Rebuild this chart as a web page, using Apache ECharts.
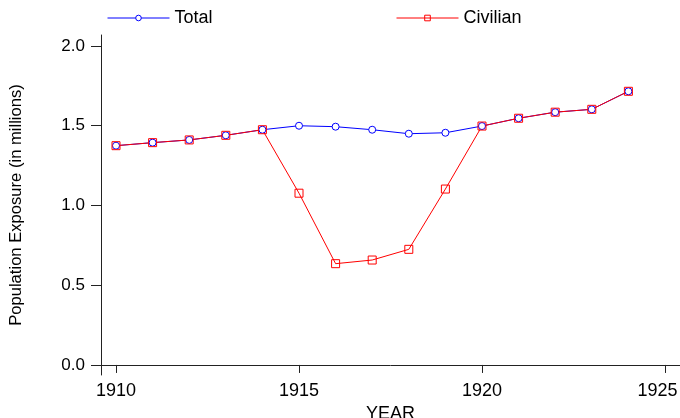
<!DOCTYPE html>
<html><head><meta charset="utf-8">
<script src="https://cdn.jsdelivr.net/npm/echarts@6/dist/echarts.min.js"></script>
<style>html,body{margin:0;padding:0;background:#fff}#c{width:680px;height:418px}</style>
</head><body><div id="c"></div>
<script>
var years = [1910,1911,1912,1913,1914,1915,1916,1917,1918,1919,1920,1921,1922,1923,1924];
var total = [1.375,1.394,1.411,1.440,1.475,1.500,1.494,1.475,1.450,1.456,1.498,1.547,1.585,1.603,1.716];
var civilian = [1.375,1.394,1.411,1.440,1.475,1.077,0.635,0.658,0.725,1.103,1.498,1.547,1.585,1.603,1.716];
var xTicks = [1910,1915,1920,1925];
var yTicks = [0,0.5,1,1.5,2];

var font = '"Liberation Sans", Arial, sans-serif';
var chart = echarts.init(document.getElementById('c'), null, {renderer:'canvas'});
chart.setOption({
  animation:false,
  backgroundColor:'#fff',
  grid:{left:101, right:0, top:35, bottom:43, containLabel:false, outerBoundsMode:'none'},
  legend:[
    {data:['Total'], left:102, top:4, itemWidth:62, itemHeight:7, itemGap:8,
     lineStyle:{width:1}, itemStyle:{borderWidth:1},
     textStyle:{fontFamily:font, fontSize:18, color:'#000'}},
    {data:['Civilian'], left:391, top:4, itemWidth:62, itemHeight:7, itemGap:8,
     lineStyle:{width:1}, itemStyle:{borderWidth:1},
     textStyle:{fontFamily:font, fontSize:18, color:'#000'}}
  ],
  xAxis:{
    type:'value', min:1909.59, max:1925.41,
    name:'YEAR', nameLocation:'middle', nameGap:25,
    nameTextStyle:{fontFamily:font, fontSize:18, color:'#000'},
    axisLine:{show:true, lineStyle:{color:'#222', width:1}},
    axisTick:{show:true, length:8, customValues:xTicks, lineStyle:{color:'#222'}},
    axisLabel:{customValues:xTicks, fontFamily:font, fontSize:18, color:'#000', margin:7,
      formatter:function(v){return v === 1925 ? '{r|' + v + '}' : String(v);},
      rich:{r:{fontFamily:font, fontSize:18, color:'#000', padding:[0,15,0,0]}}},
    splitLine:{show:false}
  },
  yAxis:{
    type:'value', min:-0.063, max:2.069,
    name:'Population Exposure (in millions)', nameLocation:'middle', nameRotate:90, nameGap:76,
    nameTextStyle:{fontFamily:font, fontSize:16.6, color:'#000'},
    axisLine:{show:true, lineStyle:{color:'#222', width:1}},
    axisTick:{show:true, length:10, customValues:yTicks, lineStyle:{color:'#222'}},
    axisLabel:{customValues:yTicks, fontFamily:font, fontSize:17, color:'#000', margin:16,
      formatter:function(v){return v.toFixed(1);}},
    splitLine:{show:false}
  },
  series:[
    {name:'Total', type:'line', data:years.map(function(y,i){return [y,total[i]];}),
     symbol:'circle', symbolSize:7, color:'#0000ff',
     lineStyle:{color:'#0000ff', width:1}, itemStyle:{color:'#fff', borderColor:'#0000ff', borderWidth:1}},
    {name:'Civilian', type:'line', data:years.map(function(y,i){return [y,civilian[i]];}),
     symbol:'rect', symbolSize:8, color:'#ff0000',
     lineStyle:{color:'#ff0000', width:1}, itemStyle:{color:'rgba(255,255,255,0)', borderColor:'#ff0000', borderWidth:1}}
  ]
});
</script></body></html>
